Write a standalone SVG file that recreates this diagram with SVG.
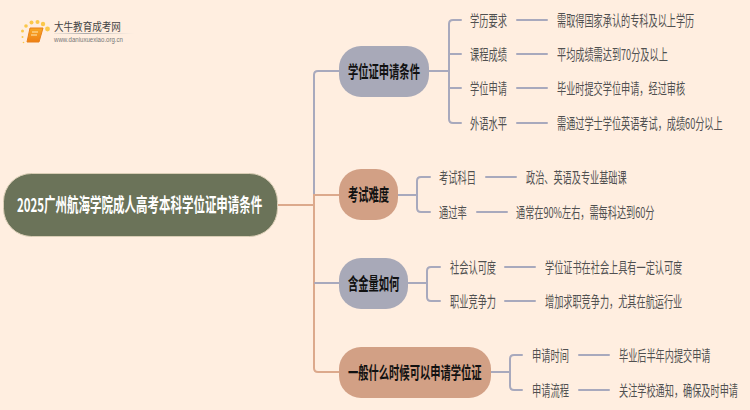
<svg xmlns="http://www.w3.org/2000/svg" width="750" height="410" viewBox="0 0 750 410">
<defs>
<linearGradient id="rule" x1="0" x2="1" y1="0" y2="0"><stop offset="0" stop-color="#bbb" stop-opacity="0.2"/><stop offset="0.4" stop-color="#aaa"/><stop offset="1" stop-color="#ccc" stop-opacity="0"/></linearGradient>
<linearGradient id="book" x1="0" x2="0" y1="0" y2="1"><stop offset="0" stop-color="#f9a825"/><stop offset="1" stop-color="#ee7f14"/></linearGradient>
</defs>
<style>
text{font-family:"Noto Sans CJK SC","Liberation Sans",sans-serif;dominant-baseline:central;}
.l{font-size:15px;fill:#505050;}
.b{font-size:17px;font-weight:700;fill:#111;}
.c{fill:none;stroke-width:2;stroke-linecap:round;}
.g{stroke:#a8a9bd;}
.t{stroke:#dca98c;}
</style>
<rect width="750" height="410" fill="#ffeee0"/>
<g id="logo">
<g fill="#fbc84a"><circle cx="22.500" cy="37" r="1"/><circle cx="22.500" cy="31" r="1.500"/><circle cx="26" cy="26" r="1.800"/><circle cx="31.500" cy="22.500" r="2"/><circle cx="37.500" cy="22" r="2"/><circle cx="43" cy="24" r="2.200"/><circle cx="47.500" cy="29" r="2.400"/><circle cx="23.500" cy="42.500" r=".8"/></g>
<path d="M30 28H43L39 42H27Z" fill="url(#book)" stroke="#e8801a" stroke-width="1" stroke-linejoin="round"/>
<path d="M32 32H38M31 35H37" stroke="#ffe9b5" stroke-width="1"/>
<text transform="translate(54 26.500) scale(.87 1)" font-size="11" fill="#444">大牛教育成考网</text>
<rect x="54" y="33" width="80" height="1" fill="url(#rule)"/>
<text x="54" y="39" font-size="6.500" fill="#777" textLength="69" lengthAdjust="spacingAndGlyphs" style="font-family:'Liberation Sans',sans-serif">www.daniuxuexiao.org.cn</text>
</g>
<g id="connectors">
<path class="c g" d="M314 195V75Q314 71 318 71H339"/>
<path class="c t" d="M277 205H314"/>
<path class="c t" d="M339 195H314V368Q314 372 318 372H339"/>
<path class="c g" d="M315 283H339"/>
<path class="c g" d="M429 71H449M461 20H453Q449 20 449 24V119Q449 123 453 123H461M449 54H461M449 88H461"/>
<path class="c g" d="M517 20H547M517 54H547M517 88H547M517 123H547"/>
<path class="c g" d="M398 195H417M430 177H421Q417 177 417 181V208Q417 212 421 212H430"/>
<path class="c g" d="M486 177H516M477 212H507"/>
<path class="c g" d="M408 283H427M440 267H431Q427 267 427 271V297Q427 301 431 301H440"/>
<path class="c g" d="M505 267H535M505 301H535"/>
<path class="c g" d="M491 372H510M522 355H514Q510 355 510 359V386Q510 390 514 390H522"/>
<path class="c g" d="M579 355H609M579 390H609"/>
</g>
<g id="root"><rect x="3.500" y="173.500" width="274" height="63" rx="28" fill="#6b7359" stroke="#d9cdb5"/><text transform="translate(17 204) scale(.605 1)" font-size="19" font-weight="700" fill="#fff">2025广州航海学院成人高考本科学位证申请条件</text></g>
<g id="b1"><rect x="339" y="46" width="90" height="51" rx="22" fill="#a8a9b8"/><text class="b" transform="translate(348 71) scale(.605 1)">学位证申请条件</text></g>
<g id="b2"><rect x="339" y="169" width="59" height="51" rx="22" fill="#d2a085"/><text class="b" transform="translate(348 194) scale(.605 1)">考试难度</text></g>
<g id="b3"><rect x="339" y="258" width="69" height="51" rx="22" fill="#a8a9b8"/><text class="b" transform="translate(348 283) scale(.605 1)">含金量如何</text></g>
<g id="b4"><rect x="339" y="347" width="152" height="51" rx="22" fill="#d2a085"/><text class="b" transform="translate(348 372) scale(.605 1)">一般什么时候可以申请学位证</text></g>
<g id="n11"><text class="l" transform="translate(470 20) scale(.615 1)">学历要求</text><text class="l" transform="translate(557 20) scale(.611 1)">需取得国家承认的专科及以上学历</text></g>
<g id="n12"><text class="l" transform="translate(470 54) scale(.615 1)">课程成绩</text><text class="l" transform="translate(557 54) scale(.611 1)">平均成绩需达到70分及以上</text></g>
<g id="n13"><text class="l" transform="translate(470 88) scale(.615 1)">学位申请</text><text class="l" transform="translate(557 88) scale(.611 1)">毕业时提交学位申请，经过审核</text></g>
<g id="n14"><text class="l" transform="translate(470 123) scale(.615 1)">外语水平</text><text class="l" transform="translate(557 123) scale(.611 1)">需通过学士学位英语考试，成绩60分以上</text></g>
<g id="n21"><text class="l" transform="translate(439 177) scale(.615 1)">考试科目</text><text class="l" transform="translate(526 177) scale(.611 1)">政治、英语及专业基础课</text></g>
<g id="n22"><text class="l" transform="translate(439 212) scale(.615 1)">通过率</text><text class="l" transform="translate(516 212) scale(.611 1)">通常在90%左右，需每科达到60分</text></g>
<g id="n31"><text class="l" transform="translate(450 267) scale(.615 1)">社会认可度</text><text class="l" transform="translate(545 267) scale(.611 1)">学位证书在社会上具有一定认可度</text></g>
<g id="n32"><text class="l" transform="translate(450 301) scale(.615 1)">职业竞争力</text><text class="l" transform="translate(545 301) scale(.611 1)">增加求职竞争力，尤其在航运行业</text></g>
<g id="n41"><text class="l" transform="translate(532 355) scale(.615 1)">申请时间</text><text class="l" transform="translate(619 355) scale(.611 1)">毕业后半年内提交申请</text></g>
<g id="n42"><text class="l" transform="translate(532 390) scale(.615 1)">申请流程</text><text class="l" transform="translate(619 390) scale(.611 1)">关注学校通知，确保及时申请</text></g>
</svg>
